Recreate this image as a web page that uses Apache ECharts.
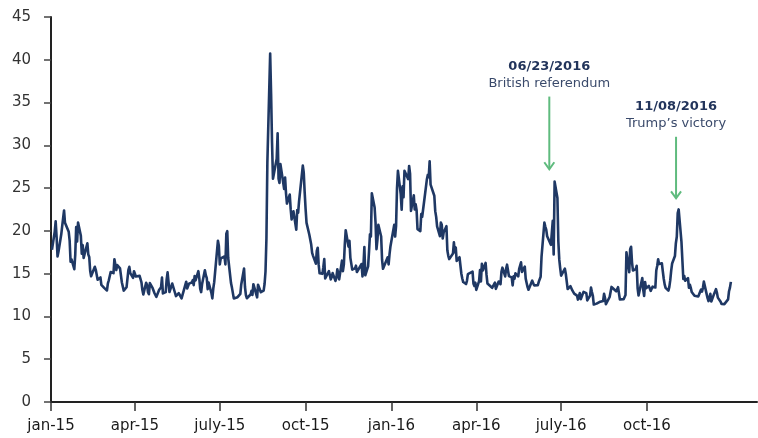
<!DOCTYPE html>
<html>
<head>
<meta charset="utf-8">
<script src="https://cdn.jsdelivr.net/npm/echarts@6/dist/echarts.min.js"></script>
<style>
  html, body { margin: 0; padding: 0; background: #fff; }
  #chart { width: 758px; height: 438px; }
</style>
</head>
<body>
<div id="chart"></div>
<script>
// VIX daily closes, [month-day, close]
const vix2015 = [
  ['01-02',17.79],['01-05',19.92],['01-06',21.12],['01-07',19.31],['01-08',17.01],['01-09',17.55],
  ['01-12',19.60],['01-13',20.56],['01-14',21.48],['01-15',22.39],['01-16',20.95],['01-20',19.89],
  ['01-21',18.85],['01-22',16.40],['01-23',16.66],['01-26',15.52],['01-27',17.22],['01-28',20.44],
  ['01-29',18.76],['01-30',20.97],
  ['02-02',19.43],['02-03',17.33],['02-04',18.33],['02-05',16.85],['02-06',17.29],['02-09',18.55],
  ['02-10',17.23],['02-11',16.96],['02-12',15.34],['02-13',14.69],['02-17',15.80],['02-18',15.45],
  ['02-19',15.29],['02-20',14.30],['02-23',14.56],['02-24',13.69],['02-25',13.84],['02-26',13.91],
  ['02-27',13.34],
  ['03-02',13.04],['03-03',13.86],['03-04',14.23],['03-05',14.04],['03-06',15.20],['03-09',15.06],
  ['03-10',16.69],['03-11',16.87],['03-12',15.42],['03-13',16.00],['03-16',15.61],['03-17',15.66],
  ['03-18',13.97],['03-19',14.07],['03-20',13.02],['03-23',13.41],['03-24',13.62],['03-25',15.44],
  ['03-26',15.80],['03-27',15.07],['03-30',14.51],['03-31',15.29],
  ['04-01',15.11],['04-02',14.67],['04-06',14.74],['04-07',14.78],['04-08',13.98],['04-09',13.09],
  ['04-10',12.58],['04-13',13.94],['04-14',13.67],['04-15',12.84],['04-16',12.60],['04-17',13.89],
  ['04-20',13.30],['04-21',13.25],['04-22',12.71],['04-23',12.48],['04-24',12.29],['04-27',13.12],
  ['04-28',13.03],['04-29',13.39],['04-30',14.55],
  ['05-01',12.70],['05-04',12.85],['05-05',14.31],['05-06',15.15],['05-07',14.05],['05-08',12.86],
  ['05-11',13.85],['05-12',13.86],['05-13',13.76],['05-14',12.74],['05-15',12.38],['05-18',12.73],
  ['05-19',12.85],['05-20',12.88],['05-21',12.11],['05-22',12.13],['05-26',14.06],['05-27',13.27],
  ['05-28',13.31],['05-29',13.84],
  ['06-01',13.97],['06-02',14.24],['06-03',13.66],['06-04',14.71],['06-05',14.21],['06-08',15.29],
  ['06-09',14.47],['06-10',13.22],['06-11',12.85],['06-12',13.78],['06-15',15.39],['06-16',14.81],
  ['06-17',14.50],['06-18',13.19],['06-19',13.96],['06-22',12.74],['06-23',12.11],['06-24',13.26],
  ['06-25',14.01],['06-26',14.02],['06-29',18.85],['06-30',18.23],
  ['07-01',16.09],['07-02',16.79],['07-06',17.01],['07-07',16.09],['07-08',19.66],['07-09',19.97],
  ['07-10',16.83],['07-13',13.90],['07-14',13.37],['07-15',13.23],['07-16',12.11],['07-17',11.95],
  ['07-20',12.25],['07-21',12.22],['07-22',12.12],['07-23',12.64],['07-24',13.74],['07-27',15.60],
  ['07-28',13.44],['07-29',12.50],['07-30',12.13],['07-31',12.12],
  ['08-03',12.56],['08-04',13.00],['08-05',12.51],['08-06',13.77],['08-07',13.39],['08-10',12.23],
  ['08-11',13.71],['08-12',13.61],['08-13',13.49],['08-14',12.83],['08-17',13.02],['08-18',13.79],
  ['08-19',15.25],['08-20',19.14],['08-21',28.03],['08-24',40.74],['08-25',36.02],['08-26',30.32],
  ['08-27',26.10],['08-28',26.05],['08-31',28.43],
  ['09-01',31.40],['09-02',26.09],['09-03',25.61],['09-04',27.80],['09-08',24.90],['09-09',26.23],
  ['09-10',24.37],['09-11',23.20],['09-14',24.25],['09-15',22.54],['09-16',21.35],['09-17',21.14],
  ['09-18',22.28],['09-21',20.14],['09-22',22.44],['09-23',22.13],['09-24',23.47],['09-25',23.62],
  ['09-28',27.63],['09-29',26.83],['09-30',24.50],
  ['10-01',22.55],['10-02',20.94],['10-05',19.54],['10-06',19.40],['10-07',18.40],['10-08',17.42],
  ['10-09',17.08],['10-12',16.17],['10-13',17.67],['10-14',18.03],['10-15',16.05],['10-16',15.05],
  ['10-19',14.98],['10-20',15.75],['10-21',16.70],['10-22',14.45],['10-23',14.46],['10-26',15.29],
  ['10-27',15.43],['10-28',14.33],['10-29',14.61],['10-30',15.07],
  ['11-02',14.15],['11-03',14.54],['11-04',15.51],['11-05',15.05],['11-06',14.33],['11-09',16.52],
  ['11-10',15.29],['11-11',16.06],['11-12',18.37],['11-13',20.08],['11-16',18.16],['11-17',18.84],
  ['11-18',16.85],['11-19',16.99],['11-20',15.47],['11-23',15.62],['11-24',15.93],['11-25',15.19],
  ['11-27',15.12],['11-30',16.13],
  ['12-01',14.67],['12-02',15.91],['12-03',18.11],['12-04',14.81],['12-07',15.84],['12-08',17.60],
  ['12-09',19.61],['12-10',19.34],['12-11',24.39],['12-14',22.73],['12-15',20.95],['12-16',17.86],
  ['12-17',18.94],['12-18',20.70],['12-21',19.34],['12-22',16.60],['12-23',15.57],['12-24',15.74],
  ['12-28',16.91],['12-29',16.08],['12-30',17.29],['12-31',18.21]
];

const vix2016 = [
  ['01-04',20.70],['01-05',19.34],['01-06',20.59],['01-07',24.99],['01-08',27.01],['01-11',24.30],
  ['01-12',22.47],['01-13',25.22],['01-14',23.95],['01-15',27.02],['01-19',26.05],['01-20',27.59],
  ['01-21',26.69],['01-22',22.34],['01-25',24.15],['01-26',22.50],['01-27',23.11],['01-28',22.42],
  ['01-29',20.20],
  ['02-01',19.98],['02-02',21.98],['02-03',21.65],['02-04',21.84],['02-05',23.38],['02-08',26.00],
  ['02-09',26.54],['02-10',26.29],['02-11',28.14],['02-12',25.40],['02-16',24.11],['02-17',22.31],
  ['02-18',21.64],['02-19',20.53],['02-22',19.38],['02-23',20.98],['02-24',20.72],['02-25',19.11],
  ['02-26',19.81],['02-29',20.55],
  ['03-01',17.70],['03-02',17.09],['03-03',16.70],['03-04',16.86],['03-07',17.35],['03-08',18.67],
  ['03-09',17.50],['03-10',18.05],['03-11',16.50],['03-14',16.92],['03-15',16.84],['03-16',14.99],
  ['03-17',14.44],['03-18',14.02],['03-21',13.79],['03-22',14.17],['03-23',14.94],['03-24',14.74],
  ['03-28',15.24],['03-29',13.82],['03-30',13.56],['03-31',13.95],
  ['04-01',13.10],['04-04',14.12],['04-05',15.42],['04-06',14.09],['04-07',16.16],['04-08',15.36],
  ['04-11',16.26],['04-12',14.85],['04-13',13.84],['04-14',13.72],['04-15',13.62],['04-18',13.35],
  ['04-19',13.24],['04-20',13.28],['04-21',13.95],['04-22',13.22],['04-25',14.08],['04-26',13.96],
  ['04-27',13.77],['04-28',15.22],['04-29',15.70],
  ['05-02',14.68],['05-03',15.60],['05-04',16.05],['05-05',15.91],['05-06',14.72],['05-09',14.57],
  ['05-10',13.63],['05-11',14.69],['05-12',14.41],['05-13',15.04],['05-16',14.68],['05-17',15.57],
  ['05-18',15.95],['05-19',16.33],['05-20',15.20],['05-23',15.82],['05-24',14.42],['05-25',13.90],
  ['05-26',13.43],['05-27',13.12],['05-31',14.19],
  ['06-01',14.20],['06-02',13.63],['06-03',13.47],['06-06',13.65],['06-07',14.05],['06-08',14.08],
  ['06-09',14.64],['06-10',17.03],['06-13',20.97],['06-14',20.50],['06-15',20.14],['06-16',19.37],
  ['06-17',19.41],['06-20',18.37],['06-21',18.48],['06-22',21.17],['06-23',17.25],['06-24',25.76],
  ['06-27',23.85],['06-28',18.75],['06-29',16.64],['06-30',15.63],
  ['07-01',14.77],['07-05',15.58],['07-06',14.96],['07-07',14.76],['07-08',13.20],['07-11',13.54],
  ['07-12',13.55],['07-13',13.04],['07-14',12.82],['07-15',12.67],['07-18',12.44],['07-19',11.97],
  ['07-20',11.77],['07-21',12.74],['07-22',12.02],['07-25',12.87],['07-26',13.05],['07-27',12.83],
  ['07-28',12.72],['07-29',11.87],
  ['08-01',12.44],['08-02',13.37],['08-03',12.86],['08-04',12.42],['08-05',11.39],['08-08',11.50],
  ['08-09',11.66],['08-10',11.66],['08-11',11.68],['08-12',11.55],['08-15',11.81],['08-16',12.64],
  ['08-17',12.19],['08-18',11.43],['08-19',11.34],['08-22',12.27],['08-23',12.38],['08-24',13.45],
  ['08-25',13.63],['08-26',13.65],['08-29',12.94],['08-30',13.12],['08-31',13.42],
  ['09-01',13.48],['09-02',11.98],['09-06',12.02],['09-07',11.94],['09-08',12.51],['09-09',17.50],
  ['09-12',15.16],['09-13',17.85],['09-14',18.14],['09-15',16.30],['09-16',15.37],['09-19',15.53],
  ['09-20',15.92],['09-21',13.30],['09-22',12.45],['09-23',12.29],['09-26',14.50],['09-27',13.10],
  ['09-28',12.39],['09-29',14.02],['09-30',13.29],
  ['10-03',13.57],['10-04',13.63],['10-05',12.99],['10-06',12.84],['10-07',13.48],['10-10',13.38],
  ['10-11',15.36],['10-12',15.91],['10-13',16.69],['10-14',16.12],['10-17',16.21],['10-18',15.28],
  ['10-19',14.41],['10-20',13.75],['10-21',13.34],['10-24',13.02],['10-25',13.46],['10-26',14.24],
  ['10-27',15.36],['10-28',16.19],['10-31',17.06],
  ['11-01',18.56],['11-02',19.32],['11-03',22.08],['11-04',22.51],['11-07',18.71],['11-08',18.74],
  ['11-09',14.38],['11-10',14.74],['11-11',14.17],['11-14',14.48],['11-15',13.37],['11-16',13.72],
  ['11-17',13.35],['11-18',12.85],['11-21',12.42],['11-22',12.41],['11-23',12.43],['11-25',12.34],
  ['11-28',13.15],['11-29',12.90],['11-30',13.33],
  ['12-01',14.07],['12-02',14.12],['12-05',12.14],['12-06',11.79],['12-07',12.22],['12-08',12.64],
  ['12-09',11.75],['12-12',12.64],['12-13',12.72],['12-14',13.19],['12-15',12.79],['12-16',12.20],
  ['12-19',11.71],['12-20',11.45],['12-21',11.27],['12-22',11.43],['12-23',11.44],['12-27',11.99],
  ['12-28',12.95],['12-29',13.37],['12-30',14.04]
];

// Quarter ticks on the date axis
const tickDates = ['2015-01-01','2015-04-01','2015-07-01','2015-10-01','2016-01-01','2016-04-01','2016-07-01','2016-10-01'];
const tickLabels = ['jan-15','apr-15','july-15','oct-15','jan-16','apr-16','july-16','oct-16'];

// Event annotations
const eventDates = ['06/23/2016', '11/08/2016'];
const eventNames = ['British referendum', 'Trump\u2019s victory'];

const AXIS_START = Date.UTC(2015, 0, 1);
const DAY = 86400000;
function dayIndex(iso) {
  const [y, m, d] = iso.split('-').map(Number);
  return (Date.UTC(y, m - 1, d) - AXIS_START) / DAY;
}

const series = []
  .concat(vix2015.map(([md, v]) => [dayIndex('2015-' + md), v]))
  .concat(vix2016.map(([md, v]) => [dayIndex('2016-' + md), v]));

const tickDays = tickDates.map(dayIndex);

// arrows: [x (days), arrow top value, arrow tip value]
const arrows = [
  [534.3, 35.7, 27.2],
  [670.2, 31.0, 23.8]
];

const GREEN = '#5fbb7e';
const NAVY = '#1f3864';
const FONT = '"DejaVu Sans", sans-serif';

const chart = echarts.init(document.getElementById('chart'), null, { renderer: 'canvas' });
chart.setOption({
  animation: false,
  backgroundColor: '#ffffff',
  grid: { left: 51, right: 1, top: 17, bottom: 36 },
  xAxis: {
    type: 'value',
    min: 0,
    max: 757,
    splitLine: { show: false },
    axisLine: { show: true, lineStyle: { color: '#222', width: 2 } },
    axisTick: { show: true, length: 9, lineStyle: { color: '#333', width: 1.5 }, customValues: tickDays },
    axisLabel: {
      customValues: tickDays,
      margin: 17,
      color: '#1a1a1a',
      fontFamily: FONT,
      fontSize: 15,
      formatter: (v) => {
        const i = tickDays.indexOf(v);
        return i >= 0 ? tickLabels[i] : '';
      }
    }
  },
  yAxis: {
    type: 'value',
    min: 0,
    max: 45,
    interval: 5,
    splitLine: { show: false },
    axisLine: { show: true, lineStyle: { color: '#222', width: 2 } },
    axisTick: { show: true, length: 7, lineStyle: { color: '#444', width: 1.5 } },
    axisLabel: { margin: 20, color: '#333', fontFamily: FONT, fontSize: 15 }
  },
  series: [
    {
      type: 'line',
      data: series,
      showSymbol: false,
      lineStyle: { color: NAVY, width: 2.6, join: 'round' },
      z: 3
    },
    {
      type: 'custom',
      data: arrows,
      z: 4,
      renderItem: (params, api) => {
        const top = api.coord([api.value(0), api.value(1)]);
        const tip = api.coord([api.value(0), api.value(2)]);
        const i = params.dataIndex;
        return {
          type: 'group',
          children: [
            { type: 'line', shape: { x1: top[0], y1: top[1], x2: tip[0], y2: tip[1] - 1 },
              style: { stroke: GREEN, lineWidth: 2 } },
            { type: 'polyline', shape: { points: [[tip[0] - 5, tip[1] - 7], [tip[0], tip[1]], [tip[0] + 5, tip[1] - 7]] },
              style: { stroke: GREEN, lineWidth: 2, fill: null } },
            { type: 'text', x: top[0], y: top[1] - 30,
              style: { text: eventDates[i], font: 'bold 13px ' + FONT, fill: '#22345b', align: 'center', verticalAlign: 'middle' } },
            { type: 'text', x: top[0], y: top[1] - 13,
              style: { text: eventNames[i], font: '13px ' + FONT, fill: '#3a4a6b', align: 'center', verticalAlign: 'middle' } }
          ]
        };
      }
    }
  ]
});
</script>
</body>
</html>
